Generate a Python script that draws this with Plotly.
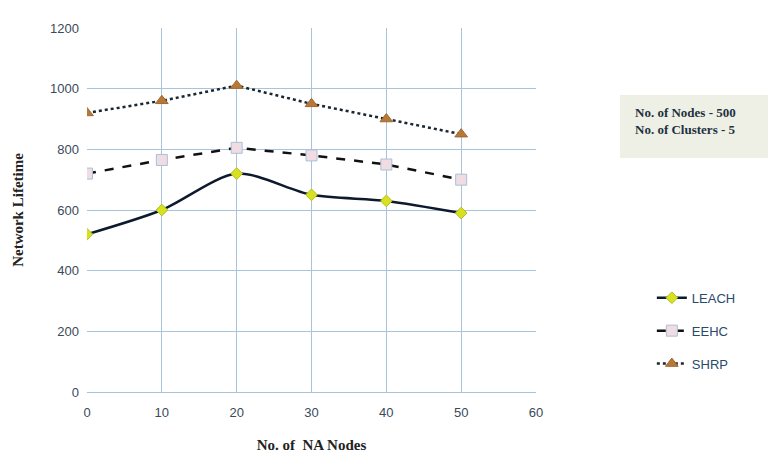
import plotly.graph_objects as go

na_nodes = [0, 10, 20, 30, 40, 50]
leach = [520, 600, 720, 650, 630, 590]
eehc = [720, 765, 805, 780, 750, 700]
shrp = [920, 960, 1010, 950, 900, 850]

x_ticks = [0, 10, 20, 30, 40, 50, 60]
y_ticks = [0, 200, 400, 600, 800, 1000, 1200]

tick_font = dict(family="Liberation Sans, Arial, sans-serif", size=13, color="#3a4a5a")
serif_bold = dict(family="Liberation Serif, Times New Roman, serif", size=15, color="#222222")
grid = "#a8c4dc"

fig = go.Figure()

fig.add_trace(go.Scatter(
    x=na_nodes, y=leach, name="LEACH", legendgroup="leach", mode="lines+markers",
    line=dict(color="#0d1a2e", width=2.5, shape="spline", smoothing=0.8),
    marker=dict(symbol="diamond", size=9, color="#d8e020", line=dict(color="#b0c020", width=1)),
))
fig.add_trace(go.Scatter(
    x=na_nodes, y=eehc, name="EEHC", legendgroup="eehc", mode="lines+markers",
    line=dict(color="#111111", width=2.5, dash="dash"),
    marker=dict(symbol="square", size=11, color="#f2dce4", line=dict(color="#a8c0d8", width=1)),
))
fig.add_trace(go.Scatter(
    x=na_nodes, y=shrp, name="SHRP", legendgroup="shrp", mode="lines+markers",
    line=dict(color="#1a2630", width=2.5, dash="dot"),
    marker=dict(symbol="triangle-up", size=11, color="#b87838", line=dict(color="#a06830", width=1)),
))

fig.update_layout(
    width=768, height=459,
    margin=dict(l=87, r=232, t=28, b=67),
    paper_bgcolor="white", plot_bgcolor="white",
    showlegend=True,
    legend=dict(
        x=1.258, y=0.30, xanchor="left", yanchor="top",
        font=dict(family="Liberation Sans, Arial, sans-serif", size=13, color="#2a4a6a"),
        bgcolor="rgba(0,0,0,0)", tracegroupgap=13,
    ),
    xaxis=dict(
        range=[0, 60], tickvals=x_ticks, showgrid=True, gridcolor=grid, gridwidth=1.3,
        zeroline=False, showline=True, linecolor=grid, linewidth=1.3, tickfont=tick_font,
        ticks="", ticklabelstandoff=8, automargin=False,
        title=dict(text="<b>No. of  NA Nodes</b>", font=serif_bold, standoff=20),
    ),
    yaxis=dict(
        range=[0, 1200], tickvals=y_ticks, showgrid=True, gridcolor=grid, gridwidth=1.3,
        zeroline=False, showline=False, tickfont=tick_font, ticks="", ticklabelstandoff=7,
        automargin=False,
        title=dict(text="<b>Network Lifetime</b>", font=serif_bold, standoff=22),
    ),
    shapes=[dict(
        type="rect", xref="paper", yref="paper",
        x0=(620 - 87) / 449, x1=(770 - 87) / 449,
        y0=(392 - 158) / 364, y1=(392 - 95) / 364,
        fillcolor="#eef0e6", line=dict(width=0), layer="below",
    )],
    annotations=[dict(
        xref="paper", yref="paper", x=(633 - 87) / 449, y=(392 - 103) / 364,
        xanchor="left", yanchor="top",
        text="<b>No. of Nodes - 500<br>No. of Clusters - 5</b>", showarrow=False, align="left",
        font=dict(family="Liberation Serif, Times New Roman, serif", size=13, color="#1e3040"),
    )],
)

fig.write_html("out.html")
